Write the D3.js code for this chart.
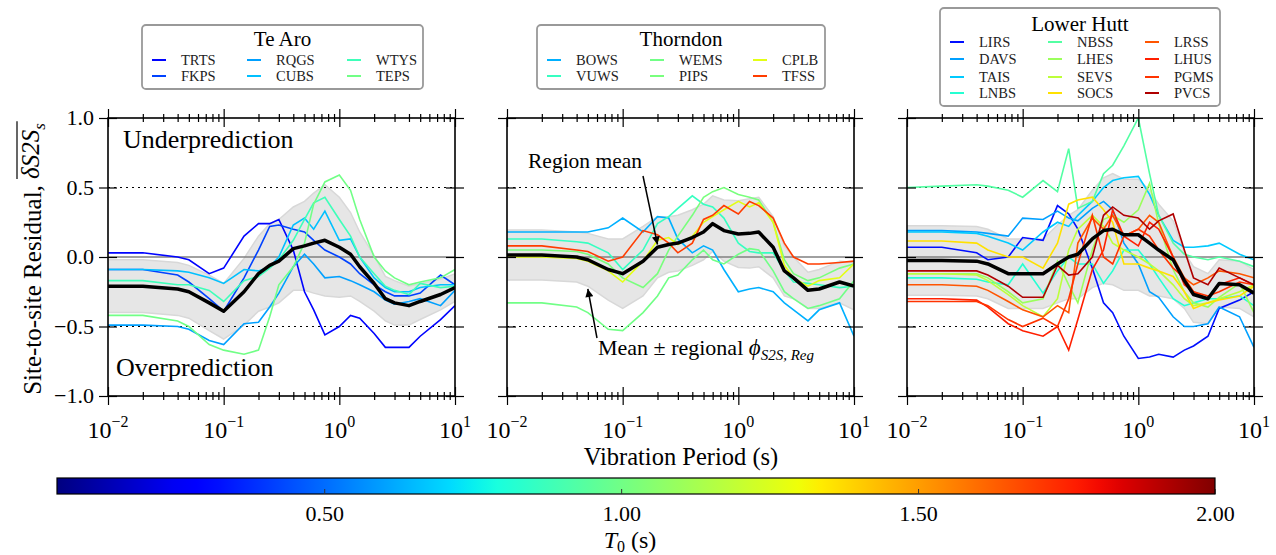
<!DOCTYPE html>
<meta charset="utf-8">
<script src="https://d3js.org/d3.v7.min.js"></script>
<style>
  body { margin: 0; background: #fff; }
  svg { font-family: "Liberation Serif", "Times New Roman", serif; }
</style>
<svg id="chart" width="1276" height="555"></svg>

<script>
// vibration periods (s) shared by every curve
const periods = [0.01, 0.02, 0.04, 0.05, 0.075, 0.1, 0.15, 0.2, 0.25, 0.3, 0.4, 0.5,
                 0.6, 0.75, 1.0, 1.25, 1.5, 2.0, 2.5, 3.0, 4.0, 5.0, 7.5, 10];

// --- Te Aro
const teAroSites = ["TRTS", "FKPS", "RQGS", "CUBS", "WTYS", "TEPS"];
const teAroT0 = [0.30, 0.42, 0.60, 0.66, 0.88, 1.00];
const teAroValues = [
  [0.03,0.03,0.0,-0.02,-0.12,-0.08,0.15,0.24,0.24,0.27,0.05,-0.25,-0.38,-0.56,-0.5,-0.42,-0.44,-0.55,-0.65,-0.65,-0.65,-0.57,-0.45,-0.35],
  [-0.09,-0.09,-0.13,-0.18,-0.3,-0.39,-0.15,0.05,0.22,0.23,0.2,0.18,0.12,0.05,0.0,-0.05,-0.12,-0.2,-0.25,-0.28,-0.28,-0.26,-0.13,-0.2],
  [-0.49,-0.49,-0.5,-0.52,-0.6,-0.63,-0.48,-0.47,-0.36,-0.26,-0.07,0.02,-0.05,-0.15,-0.14,-0.17,-0.2,-0.25,-0.31,-0.34,-0.32,-0.3,-0.35,-0.24],
  [-0.09,-0.09,-0.1,-0.11,-0.15,-0.19,-0.09,-0.1,-0.07,0.0,0.23,0.28,0.2,0.33,0.12,0.13,0.0,-0.15,-0.22,-0.25,-0.25,-0.22,-0.2,-0.2],
  [-0.17,-0.17,-0.2,-0.2,-0.24,-0.32,-0.17,-0.14,-0.08,-0.02,0.12,0.27,0.39,0.43,0.27,0.15,0.0,-0.12,-0.21,-0.24,-0.27,-0.19,-0.22,-0.21],
  [-0.42,-0.42,-0.46,-0.5,-0.63,-0.67,-0.7,-0.67,-0.43,-0.2,-0.07,0.1,0.38,0.54,0.59,0.48,0.27,0.0,-0.1,-0.15,-0.2,-0.18,-0.15,-0.09]
];
const teAroMean = [-0.21,-0.21,-0.23,-0.25,-0.33,-0.39,-0.25,-0.12,-0.06,-0.03,0.06,0.08,0.1,0.12,0.07,0.02,-0.07,-0.19,-0.3,-0.33,-0.35,-0.32,-0.27,-0.22];
const teAroPhi = [0.19,0.19,0.19,0.19,0.2,0.2,0.24,0.27,0.3,0.3,0.3,0.32,0.36,0.4,0.36,0.3,0.25,0.2,0.16,0.16,0.14,0.13,0.11,0.1];

// --- Thorndon
const thorndonSites = ["BOWS", "VUWS", "WEMS", "PIPS", "CPLB", "TFSS"];
const thorndonT0 = [0.63, 0.86, 1.00, 1.02, 1.27, 1.70];
const thorndonValues = [
  [0.18,0.18,0.18,0.18,0.21,0.28,0.18,0.29,0.28,0.13,0.03,0.08,0.05,-0.09,-0.25,-0.23,-0.22,-0.25,-0.33,-0.38,-0.46,-0.38,-0.33,-0.57],
  [0.13,0.13,0.11,0.1,0.03,-0.09,0.05,0.24,0.29,0.35,0.44,0.38,0.36,0.28,0.1,0.04,0.03,0.03,-0.1,-0.18,-0.19,-0.2,-0.22,-0.21],
  [-0.33,-0.33,-0.36,-0.4,-0.52,-0.53,-0.4,-0.28,-0.15,-0.13,-0.02,0.05,-0.02,-0.05,0.02,0.06,0.05,-0.1,-0.25,-0.3,-0.37,-0.35,-0.3,-0.17],
  [0.05,0.05,0.04,0.02,-0.05,-0.15,-0.22,-0.12,0.05,0.15,0.3,0.43,0.47,0.5,0.45,0.43,0.41,0.25,-0.02,-0.12,-0.17,-0.15,-0.08,-0.05],
  [0.0,0.0,-0.01,-0.03,-0.1,-0.18,-0.03,0.12,0.14,0.09,0.15,0.25,0.29,0.34,0.4,0.36,0.39,0.25,-0.06,-0.15,-0.21,-0.17,-0.15,-0.05],
  [0.08,0.08,0.05,0.04,-0.03,0.0,0.19,0.16,0.1,0.03,0.1,0.27,0.3,0.37,0.31,0.4,0.37,0.28,0.1,0.0,-0.05,-0.05,-0.04,-0.03]
];
const thorndonMean = [0.015,0.015,0.0,-0.02,-0.09,-0.12,-0.03,0.07,0.09,0.1,0.14,0.18,0.24,0.19,0.165,0.17,0.18,0.07,-0.1,-0.15,-0.24,-0.23,-0.18,-0.21];
const thorndonPhi = [0.18,0.18,0.18,0.19,0.22,0.25,0.25,0.22,0.2,0.2,0.2,0.2,0.2,0.22,0.24,0.25,0.25,0.22,0.18,0.15,0.13,0.14,0.15,0.17];

// --- Lower Hutt
const lowerHuttSites = ["LIRS", "DAVS", "TAIS", "LNBS", "NBSS", "LHES",
                        "SEVS", "SOCS", "LRSS", "LHUS", "PGMS", "PVCS"];
const lowerHuttT0 = [0.32, 0.60, 0.68, 0.82, 0.93, 1.10, 1.18, 1.36, 1.65, 1.76, 1.72, 1.92];
const lowerHuttValues = [
  [0.07,0.07,0.03,-0.02,0.0,0.14,0.12,0.37,0.31,0.2,-0.08,-0.33,-0.4,-0.57,-0.73,-0.72,-0.7,-0.72,-0.67,-0.64,-0.57,-0.37,-0.31,-0.25],
  [0.19,0.19,0.18,0.17,0.15,0.28,0.27,0.33,0.28,0.26,0.35,0.4,0.34,0.1,-0.05,-0.25,-0.29,-0.43,-0.5,-0.5,-0.48,-0.36,-0.43,-0.65],
  [0.18,0.18,0.17,0.15,0.1,0.05,0.18,0.25,0.22,0.3,0.4,0.5,0.55,0.57,0.58,0.45,0.3,0.12,0.07,0.07,0.08,0.1,0.02,-0.02],
  [-0.15,-0.15,-0.16,-0.18,-0.2,-0.05,-0.26,-0.1,0.0,-0.05,-0.05,-0.19,-0.1,0.05,0.05,-0.05,-0.15,-0.3,-0.35,-0.33,-0.3,-0.3,-0.28,-0.35],
  [0.5,0.51,0.52,0.51,0.48,0.43,0.55,0.47,0.78,0.35,0.4,0.6,0.66,0.8,1.0,0.6,0.3,0.1,0.02,0.0,-0.02,0.0,-0.03,-0.07],
  [-0.12,-0.12,-0.12,-0.15,-0.25,-0.33,-0.3,-0.03,-0.2,-0.33,0.05,0.27,0.3,0.25,0.34,0.53,0.24,-0.09,-0.25,-0.33,-0.36,-0.29,-0.19,-0.4],
  [-0.12,-0.12,-0.13,-0.17,-0.27,-0.35,-0.43,-0.3,0.05,0.2,0.3,0.22,0.1,0.05,0.0,-0.05,-0.1,-0.2,-0.3,-0.35,-0.33,-0.3,-0.25,-0.2],
  [0.115,0.115,0.1,0.05,0.0,0.0,-0.08,0.1,0.38,0.41,0.43,0.34,0.25,-0.05,-0.05,-0.08,-0.1,-0.14,-0.25,-0.37,-0.33,-0.31,-0.28,-0.21],
  [-0.2,-0.2,-0.21,-0.24,-0.32,-0.38,-0.43,-0.35,-0.4,0.1,0.28,0.2,0.3,0.15,0.2,0.3,0.25,0.0,-0.15,-0.2,-0.15,-0.1,-0.12,-0.15],
  [-0.3,-0.3,-0.31,-0.36,-0.48,-0.53,-0.57,-0.5,-0.67,-0.45,-0.09,0.05,0.34,0.15,0.08,0.25,0.2,0.0,-0.2,-0.25,-0.3,-0.2,-0.15,-0.2],
  [-0.32,-0.32,-0.32,-0.35,-0.45,-0.5,-0.44,-0.5,-0.3,-0.05,0.3,0.0,-0.05,0.15,0.2,0.15,0.05,-0.08,-0.15,-0.25,-0.28,-0.25,-0.18,-0.2],
  [-0.1,-0.1,-0.1,-0.13,-0.21,-0.29,-0.29,-0.06,-0.13,-0.12,0.0,0.3,0.36,0.3,0.28,0.2,0.26,0.31,0.05,-0.15,-0.2,-0.08,-0.15,-0.2]
];
const lowerHuttMean = [-0.025,-0.025,-0.03,-0.05,-0.12,-0.12,-0.12,-0.05,0.0,0.02,0.13,0.19,0.2,0.16,0.16,0.1,0.05,-0.02,-0.17,-0.27,-0.3,-0.19,-0.2,-0.26];
const lowerHuttPhi = [0.25,0.25,0.25,0.25,0.25,0.25,0.25,0.28,0.3,0.32,0.35,0.38,0.4,0.4,0.4,0.38,0.33,0.28,0.2,0.2,0.18,0.17,0.17,0.17];

// ticks
const yTicks = [-1.0, -0.5, 0.0, 0.5, 1.0];
const xMajor = [0.01, 0.1, 1, 10];
const cbarTicks = [0.5, 1.0, 1.5, 2.0];
const t0Range = [0.05, 2.0];

// ---------------------------------------------------------------
const svg = d3.select("#chart");
svg.append("rect").attr("width", 1276).attr("height", 555).attr("fill", "white");

// matplotlib "jet"
const jetR = [[0, 0], [0.35, 0], [0.66, 1], [0.89, 1], [1, 0.5]];
const jetG = [[0, 0], [0.125, 0], [0.375, 1], [0.64, 1], [0.91, 0], [1, 0]];
const jetB = [[0, 0.5], [0.11, 1], [0.34, 1], [0.65, 0], [1, 0]];
function seg(pts, t) {
  for (let i = 1; i < pts.length; i++) {
    if (t <= pts[i][0]) {
      const [x0, y0] = pts[i - 1], [x1, y1] = pts[i];
      return y0 + (y1 - y0) * (t - x0) / (x1 - x0);
    }
  }
  return pts[pts.length - 1][1];
}
function jet(t) {
  t = Math.max(0, Math.min(1, t));
  return d3.rgb(255 * seg(jetR, t), 255 * seg(jetG, t), 255 * seg(jetB, t)).formatHex();
}
const norm = d3.scaleLinear().domain(t0Range).range([0, 1]).clamp(true);
const colorOf = t0 => jet(norm(t0));

const plotTop = 118, plotBottom = 396, panelW = 347;
const y = d3.scaleLinear().domain([-1, 1]).range([plotBottom, plotTop]);

const minors = [];
[0.01, 0.1, 1].forEach(d => { for (let k = 2; k <= 9; k++) minors.push(d * k); });

const panels = [
  {name: "Te Aro", left: 108, sites: teAroSites, t0: teAroT0, values: teAroValues, mean: teAroMean, phi: teAroPhi,
   legend: {x: 142, y: 25, w: 281, h: 64, titleY: 46, cols: [152, 247, 347], rows: [60, 76]}},
  {name: "Thorndon", left: 507, sites: thorndonSites, t0: thorndonT0, values: thorndonValues, mean: thorndonMean, phi: thorndonPhi,
   legend: {x: 537, y: 25, w: 288, h: 64, titleY: 46, cols: [547, 650, 753], rows: [60, 76]}},
  {name: "Lower Hutt", left: 907, sites: lowerHuttSites, t0: lowerHuttT0, values: lowerHuttValues, mean: lowerHuttMean, phi: lowerHuttPhi,
   legend: {x: 940, y: 8, w: 280, h: 98, titleY: 31, cols: [950, 1048, 1145], rows: [42, 59, 77, 93]}}
];

const defs = svg.append("defs");
defs.append("marker").attr("id", "arrow").attr("viewBox", "0 0 10 10")
  .attr("refX", 10).attr("refY", 5).attr("markerWidth", 11).attr("markerHeight", 8)
  .attr("markerUnits", "userSpaceOnUse").attr("orient", "auto")
  .append("path").attr("d", "M0,0 L10,5 L0,10 z").attr("fill", "black");

const xScales = [];

panels.forEach((p, pi) => {
  const x = d3.scaleLog().domain([0.01, 10]).range([p.left, p.left + panelW]);
  xScales.push(x);
  const g = svg.append("g");

  defs.append("clipPath").attr("id", "clip" + pi)
    .append("rect").attr("x", p.left).attr("y", plotTop).attr("width", panelW).attr("height", plotBottom - plotTop);
  const inner = g.append("g").attr("clip-path", `url(#clip${pi})`);

  // mean +/- phi band
  const band = d3.area()
    .x((d, i) => x(periods[i]))
    .y0((d, i) => y(d - p.phi[i]))
    .y1((d, i) => y(d + p.phi[i]));
  inner.append("path").datum(p.mean).attr("d", band)
    .attr("fill", "#e6e6e6").attr("stroke", "#d8d8d8").attr("stroke-width", 1.5);

  // reference lines
  inner.append("line").attr("x1", p.left).attr("x2", p.left + panelW)
    .attr("y1", y(0)).attr("y2", y(0)).attr("stroke", "#808080").attr("stroke-width", 1.5);
  [-0.5, 0.5].forEach(v => {
    inner.append("line").attr("x1", p.left).attr("x2", p.left + panelW)
      .attr("y1", y(v)).attr("y2", y(v)).attr("stroke", "black")
      .attr("stroke-width", 1).attr("stroke-dasharray", "2,4");
  });

  const line = d3.line().x((d, i) => x(periods[i])).y(d => y(d));
  p.values.forEach((vals, si) => {
    inner.append("path").datum(vals).attr("d", line).attr("fill", "none")
      .attr("stroke", colorOf(p.t0[si])).attr("stroke-width", 1.6);
  });
  inner.append("path").datum(p.mean).attr("d", line).attr("fill", "none")
    .attr("stroke", "black").attr("stroke-width", 3.5).attr("stroke-linejoin", "round");

  // frame
  g.append("rect").attr("x", p.left).attr("y", plotTop).attr("width", panelW).attr("height", plotBottom - plotTop)
    .attr("fill", "none").attr("stroke", "black").attr("stroke-width", 1.6);

  // crossing ticks on all four sides
  const tickPair = (axOut, axIn, tr) => {
    [axOut, axIn].forEach(ax => {
      const a = g.append("g").attr("transform", tr).call(ax);
      a.select(".domain").remove();
      a.selectAll("line").attr("stroke", "black").attr("stroke-width", 1.2);
      a.selectAll("text").remove();
    });
  };
  [[x, xMajor, 9], [x, minors, 4]].forEach(([s, vals, len]) => {
    tickPair(d3.axisBottom(s).tickValues(vals).tickSize(len).tickFormat(""),
             d3.axisTop(s).tickValues(vals).tickSize(len).tickFormat(""), `translate(0,${plotBottom})`);
    tickPair(d3.axisTop(s).tickValues(vals).tickSize(len).tickFormat(""),
             d3.axisBottom(s).tickValues(vals).tickSize(len).tickFormat(""), `translate(0,${plotTop})`);
  });
  tickPair(d3.axisLeft(y).tickValues(yTicks).tickSize(9).tickFormat(""),
           d3.axisRight(y).tickValues(yTicks).tickSize(9).tickFormat(""), `translate(${p.left},0)`);
  tickPair(d3.axisRight(y).tickValues(yTicks).tickSize(9).tickFormat(""),
           d3.axisLeft(y).tickValues(yTicks).tickSize(9).tickFormat(""), `translate(${p.left + panelW},0)`);

  // x tick labels 10^n
  xMajor.forEach(v => {
    const t = g.append("text").attr("x", x(v)).attr("y", 438).attr("text-anchor", "middle")
      .attr("font-size", 24);
    t.append("tspan").text("10");
    t.append("tspan").attr("dy", -11).attr("font-size", 16)
      .text(String(Math.round(Math.log10(v))).replace("-", "\u2212"));
  });

  // y tick labels on first panel
  if (pi === 0) {
    yTicks.forEach(v => {
      g.append("text").attr("x", p.left - 14).attr("y", y(v) + 7).attr("text-anchor", "end")
        .attr("font-size", 22).text(d3.format(".1f")(v).replace("-", "\u2212"));
    });
  }

  // legend
  const L = p.legend;
  const lg = svg.append("g");
  lg.append("rect").attr("x", L.x).attr("y", L.y).attr("width", L.w).attr("height", L.h)
    .attr("rx", 4).attr("fill", "white").attr("stroke", "#999").attr("stroke-width", 1.8);
  lg.append("text").attr("x", L.x + L.w / 2).attr("y", L.titleY).attr("text-anchor", "middle")
    .attr("font-size", 21).text(p.name);
  const nRows = L.rows.length;
  p.sites.forEach((s, si) => {
    const cx = L.cols[Math.floor(si / nRows)], cy = L.rows[si % nRows];
    lg.append("line").attr("x1", cx).attr("x2", cx + 14).attr("y1", cy).attr("y2", cy)
      .attr("stroke", colorOf(p.t0[si])).attr("stroke-width", 2);
    lg.append("text").attr("x", cx + 29).attr("y", cy).attr("dy", "0.35em")
      .attr("font-size", 14.5).attr("fill", "#222").text(s);
  });
});

// panel text annotations
svg.append("text").attr("x", 123).attr("y", 148).attr("font-size", 26).text("Underprediction");
svg.append("text").attr("x", 116).attr("y", 376).attr("font-size", 26).text("Overprediction");

const x2 = xScales[1];
svg.append("text").attr("x", 528).attr("y", 168).attr("font-size", 21.5).text("Region mean");
svg.append("line").attr("x1", 643).attr("y1", 176).attr("x2", x2(0.2)).attr("y2", y(0.09))
  .attr("stroke", "black").attr("stroke-width", 1.5).attr("marker-end", "url(#arrow)");
const mt = svg.append("text").attr("x", 598).attr("y", 355).attr("font-size", 22);
mt.append("tspan").text("Mean \u00b1 regional ");
mt.append("tspan").attr("font-style", "italic").attr("font-size", 23).text("\u03d5");
mt.append("tspan").attr("font-style", "italic").attr("font-size", 15).attr("dy", 5).text("S2S, Reg");
svg.append("line").attr("x1", 597).attr("y1", 338).attr("x2", x2(0.05)).attr("y2", y(-0.23))
  .attr("stroke", "black").attr("stroke-width", 1.5).attr("marker-end", "url(#arrow)");

// axis titles
svg.append("text").attr("x", 681).attr("y", 465).attr("text-anchor", "middle")
  .attr("font-size", 24.5).text("Vibration Period (s)");

const yl = svg.append("g").attr("transform", "translate(41,259) rotate(-90)");
const ylt = yl.append("text").attr("font-size", 25);
const p1 = ylt.append("tspan").text("Site-to-site Residual, ");
const p2 = ylt.append("tspan").attr("font-style", "italic").attr("dy", -2).text("\u03b4S2S");
const p3 = ylt.append("tspan").attr("font-style", "italic").attr("font-size", 17).attr("dy", 6).text("s");
const total = ylt.node().getComputedTextLength();
ylt.attr("x", -total / 2);
const l1 = p1.node().getComputedTextLength();
const l23 = p2.node().getComputedTextLength() + p3.node().getComputedTextLength();
yl.append("line").attr("x1", -total / 2 + l1).attr("x2", -total / 2 + l1 + l23 + 2)
  .attr("y1", -24).attr("y2", -24).attr("stroke", "black").attr("stroke-width", 1.2);

// colorbar
const cb = d3.scaleLinear().domain(t0Range).range([57, 1215]);
const grad = defs.append("linearGradient").attr("id", "jetgrad");
d3.range(0, 1.0001, 0.02).forEach(t => {
  grad.append("stop").attr("offset", t).attr("stop-color", jet(t));
});
svg.append("rect").attr("x", 57).attr("y", 478).attr("width", 1158).attr("height", 16)
  .attr("fill", "url(#jetgrad)").attr("stroke", "black").attr("stroke-width", 1.2);
const cbTicks = svg.append("g").attr("transform", "translate(0,494)")
  .call(d3.axisTop(cb).tickValues(cbarTicks).tickSize(5).tickFormat(""));
cbTicks.select(".domain").remove();
cbTicks.selectAll("line").attr("stroke", "#333");
const cbLabels = svg.append("g").attr("transform", "translate(0,494)")
  .call(d3.axisBottom(cb).tickValues(cbarTicks).tickSize(0).tickPadding(11).tickFormat(d3.format(".2f")));
cbLabels.select(".domain").remove();
cbLabels.selectAll("text").attr("font-size", 22).attr("font-family", "'Liberation Serif', serif").attr("fill", "black");

const tl = svg.append("text").attr("x", 630).attr("y", 548).attr("text-anchor", "middle").attr("font-size", 24);
tl.append("tspan").attr("font-style", "italic").text("T");
tl.append("tspan").attr("font-size", 16).attr("dy", 4).text("0");
tl.append("tspan").attr("dy", -4).text(" (s)");
</script>
